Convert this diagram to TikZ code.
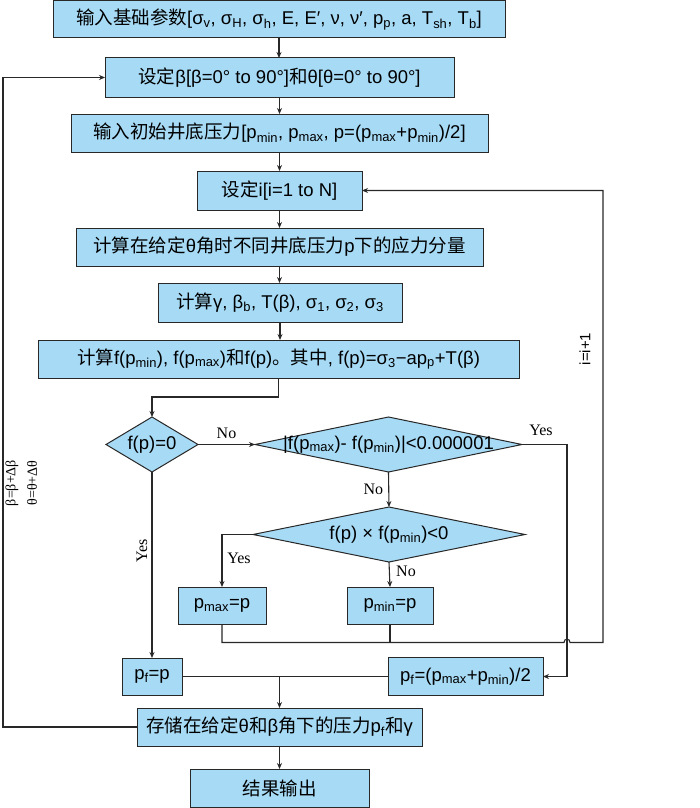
\documentclass[tikz,border=0pt]{standalone}
\usepackage{fontspec}
\setmainfont{Liberation Sans}
\newfontfamily\cjk{Noto Sans CJK SC}
\newfontfamily\tms{Liberation Serif}
\usetikzlibrary{shapes.geometric,arrows.meta}
\newcommand{\sbs}[1]{\textsubscript{#1}}
\definecolor{boxblue}{RGB}{166,218,245}
\definecolor{edge}{RGB}{40,40,40}
\begin{document}
\begin{tikzpicture}[x=1pt,y=-1pt,
  box/.style={draw=edge, fill=boxblue, line width=1pt, inner sep=0pt, outer sep=0pt,
              font=\fontsize{18.5}{21}\selectfont},
  dia/.style={diamond, draw=edge, fill=boxblue, line width=1pt, inner sep=0pt, outer sep=0pt},
  dtext/.style={font=\fontsize{18.5}{21}\selectfont, inner sep=0pt},
  lab/.style={font=\tms\fontsize{16}{18}\selectfont, inner sep=0pt},
  ln/.style={draw=edge, line width=1.1pt},
  arr/.style={ln, -{Stealth[length=6pt,width=5pt]}}]
\useasboundingbox (0,0) rectangle (700,808);
\fill[white] (0,0) rectangle (700,808);

\node[box, minimum width=452pt, minimum height=37pt] (b1) at (279,19.5)
  {{\cjk 输入基础参数}[σ\sbs{v}, σ\sbs{H}, σ\sbs{h}, E, E′, ν, ν′, p\sbs{p}, a, T\sbs{sh}, T\sbs{b}]};
\node[box, minimum width=349pt, minimum height=39pt] (b2) at (279.5,77.5)
  {{\cjk 设定}β[β=0° to 90°]{\cjk 和}θ[θ=0° to 90°]};
\node[box, minimum width=417pt, minimum height=38pt] (b3) at (279.5,133)
  {{\cjk 输入初始井底压力}[p\sbs{min}, p\sbs{max}, p=(p\sbs{max}+p\sbs{min})/2]};
\node[box, minimum width=165pt, minimum height=39pt] (b4) at (279.5,190.5)
  {{\cjk 设定}i[i=1 to N]};
\node[box, minimum width=407pt, minimum height=38pt] (b5) at (279.5,247)
  {{\cjk 计算在给定}θ{\cjk 角时不同井底压力}p{\cjk 下的应力分量}};
\node[box, minimum width=244pt, minimum height=39pt] (b6) at (280,302.5)
  {{\cjk 计算}γ, β\sbs{b}, T(β), σ\sbs{1}, σ\sbs{2}, σ\sbs{3}};
\node[box, minimum width=481pt, minimum height=38pt] (b7) at (278.5,359)
  {{\cjk 计算}f(p\sbs{min}), f(p\sbs{max}){\cjk 和}f(p){\cjk 。其中}, f(p)=σ\sbs{3}−ap\sbs{p}+T(β)};

\node[dia, minimum width=92pt, minimum height=55pt] (d1) at (152,444.5) {};
\node[dtext] (t1) at (d1) {f(p)=0};
\node[dia, minimum width=267pt, minimum height=55pt] (d2) at (388.5,444.5) {};
\node[dtext] (t2) at (d2) {|f(p\sbs{max})- f(p\sbs{min})|<0.000001};
\node[dia, minimum width=272pt, minimum height=55pt] (d3) at (389,534.5) {};
\node[dtext] (t3) at (d3) {f(p) × f(p\sbs{min})<0};

\node[box, minimum width=88pt, minimum height=37pt] (pmax) at (222,605.5) {p\sbs{max}=p};
\node[box, minimum width=86pt, minimum height=37pt] (pmin) at (390,605.5) {p\sbs{min}=p};
\node[box, minimum width=60pt, minimum height=37pt] (pf1) at (152,676.5) {p\sbs{f}=p};
\node[box, minimum width=155pt, minimum height=38pt] (pf2) at (465.5,676.5) {p\sbs{f}=(p\sbs{max}+p\sbs{min})/2};
\node[box, minimum width=285pt, minimum height=38pt] (store) at (279.5,727)
  {{\cjk 存储在给定}θ{\cjk 和}β{\cjk 角下的压力}p\sbs{f}{\cjk 和}γ};
\node[box, minimum width=179pt, minimum height=38pt] (out) at (279.5,788) {\cjk 结果输出};

% main chain
\draw[arr] (b1.south) -- (b1.south |- b2.north);
\draw[arr] (b2.south) -- (b2.south |- b3.north);
\draw[arr] (b3.south) -- (b3.south |- b4.north);
\draw[arr] (b4.south) -- (b4.south |- b5.north);
\draw[arr] (b5.south) -- (b5.south |- b6.north);
\draw[arr] (b6.south) -- (b6.south |- b7.north);
\draw[arr] (b7.south) -- ++(0,19) -| (d1.north);

% decisions
\draw[arr] (d1.east) -- (d2.west) node[lab, midway, above=5pt] (lno1) {No};
\draw[arr] (d2.east) -- ++(45,0) |- (pf2.east);
\node[lab] (lyes2) at (541,430) {Yes};
\draw[arr] (d2.south) -- (d3.north) node[lab, midway, left=5pt] (lno2) {No};
\draw[arr] (d3.west) -| (pmax.north);
\node[lab] (lyes3) at (239,558) {Yes};
\draw[arr] (d3.south) -- (pmin.north);
\node[lab] (lno3) at (406,571) {No};
\draw[arr] (d1.south) -- (pf1.north);
\node[lab, rotate=90] (lyes1) at (142,551) {Yes};

% loop back to i
\coordinate (jl) at (564,642.5);
\coordinate (jr) at (570,642.5);
\coordinate (rr) at (603,642.5);
\draw[arr] (pmax.south) |- (jl) .. controls +(0,-4.5) and +(0,-4.5) .. (jr) -- (rr) |- (b4.east);
\draw[ln] (pmin.south) -- (pmin.south |- jl);
\node[font=\fontsize{15}{17}\selectfont, rotate=90, inner sep=0pt] (li) at (585,349) {i=i+1};

% results
\draw[ln] (pf1.east) -- (pf2.west);
\coordinate (mj) at (store.north |- pf2.west);
\draw[arr] (mj) -- (store.north);
\draw[arr] (store.south) -- (out.north);

% outer loop
\draw[arr] (store.west) -- ++(-134,0) |- (b2.west);
\node[lab, font=\tms\fontsize{14}{16}\selectfont, rotate=90] (lbeta) at (12,483) {β=β+Δβ};
\node[lab, font=\tms\fontsize{14}{16}\selectfont, rotate=90] (ltheta) at (32,483) {θ=θ+Δθ};
\end{tikzpicture}
\end{document}
